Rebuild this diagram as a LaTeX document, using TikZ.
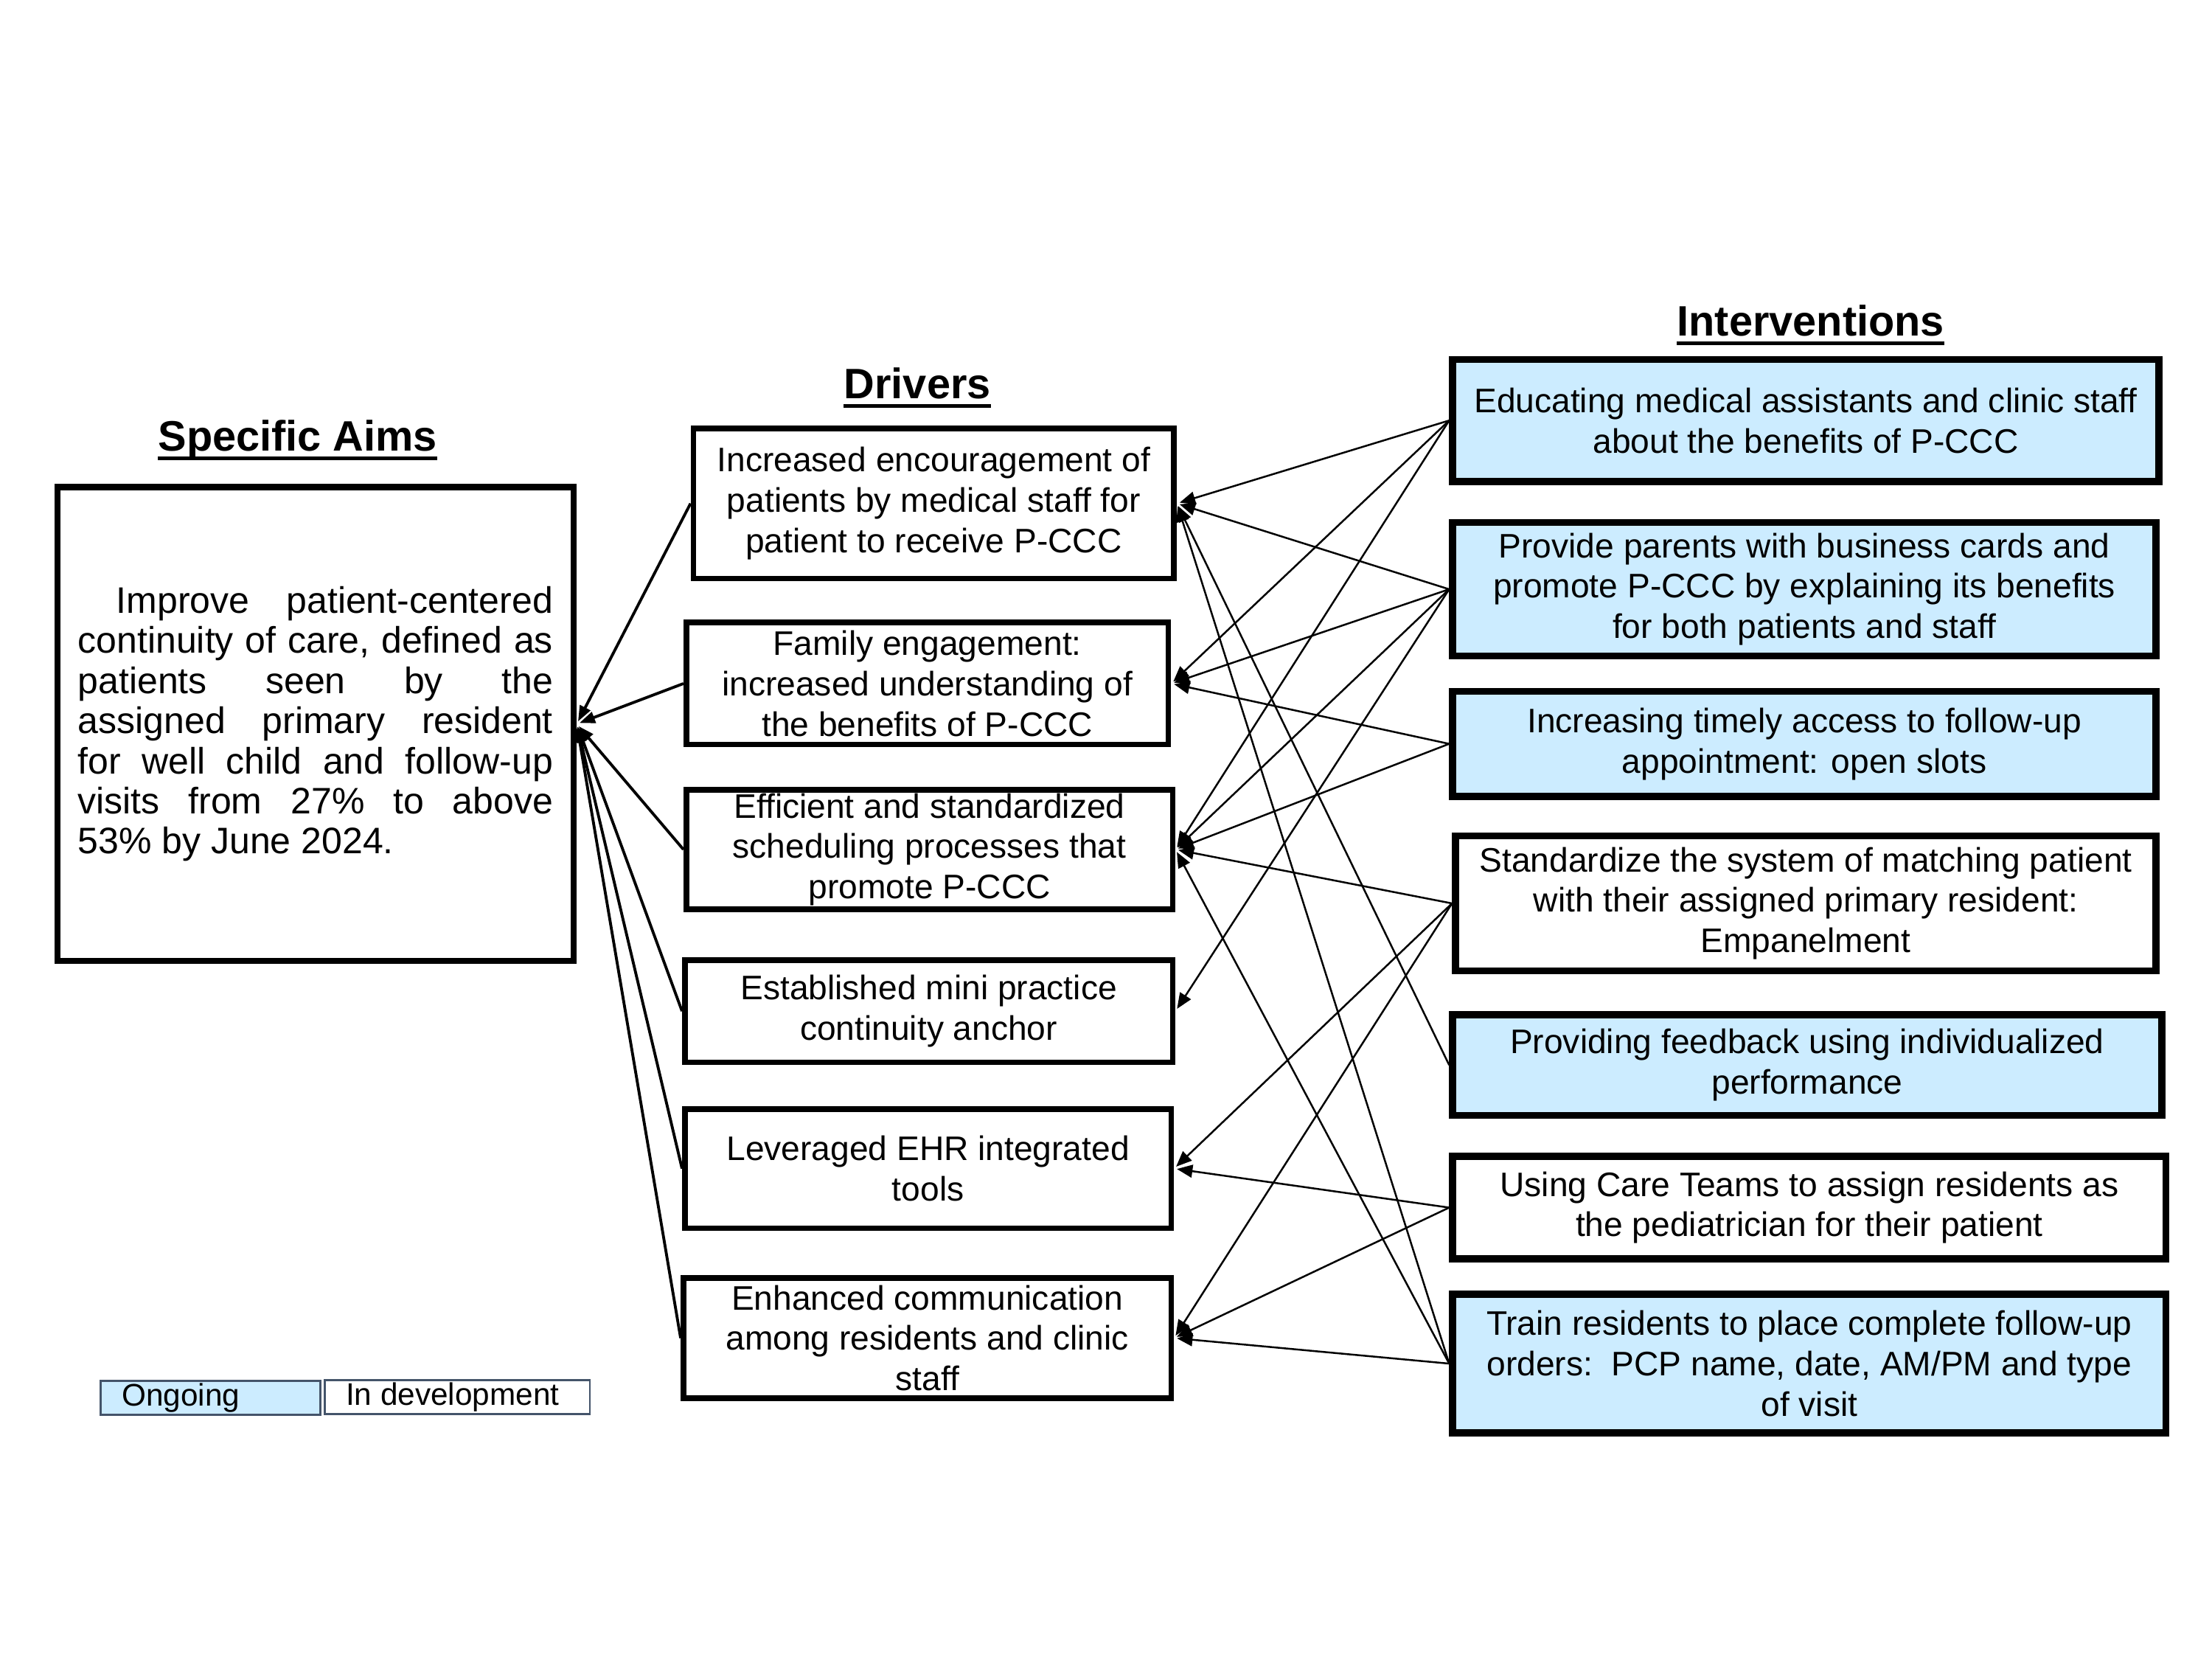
\documentclass[tikz,border=0pt]{standalone}
\usepackage{fontspec}
\setmainfont{Liberation Sans}
\usetikzlibrary{arrows.meta}
\definecolor{ltblue}{RGB}{204,236,255}
\definecolor{legendline}{RGB}{68,84,106}
\begin{document}
\begin{tikzpicture}[x=1pt,y=-1pt,
  box/.style={draw, rectangle, line width=4pt, inner sep=0pt, align=center,
    font=\fontsize{24}{28.5}\selectfont},
  intv/.style={box, line width=5pt},
  ongoing/.style={fill=ltblue},
  conn/.style={line width=1.3pt, shorten >=2pt, -{Triangle[length=11pt,width=9pt]}},
  aimconn/.style={line width=2pt, shorten >=2pt, -{Triangle[length=11pt,width=8pt]}},
  title/.style={font=\fontsize{30}{34}\selectfont\bfseries, inner sep=0pt, anchor=base},
  uline/.style={line width=2.6pt},
  lgbox/.style={draw=legendline, line width=1.5pt, inner sep=0pt, minimum height=24pt,
    font=\fontsize{22}{24}\selectfont}
]
\useasboundingbox (0,0) rectangle (1560,1170);

% titles
\node[title] (tAims) at (210,318) {Specific Aims};
\node[title] (tDrv) at (647,281) {Drivers};
\node[title] (tInt) at (1277,237) {Interventions};
\foreach \t in {tAims,tDrv,tInt}
  \draw[uline] ([yshift=-5pt]\t.base west) -- ([yshift=-5pt]\t.base east);

% aim
\node[draw, rectangle, line width=4.5pt, inner sep=0pt, minimum width=364pt, minimum height=334pt]
  (aim) at (222.5,510.5) {\parbox{335pt}{\fontsize{26}{28.3}\selectfont
  \hbox to 335pt{\kern27pt Improve\hfill patient-centered}
  \hbox to 335pt{continuity\hfill of\hfill care,\hfill defined\hfill as}
  \hbox to 335pt{patients\hfill seen\hfill by\hfill the}
  \hbox to 335pt{assigned\hfill primary\hfill resident}
  \hbox to 335pt{for\hfill well\hfill child\hfill and\hfill follow-up}
  \hbox to 335pt{visits\hfill from\hfill 27\%\hfill to\hfill above}
  \hbox to 335pt{53\% by June 2024.\hfill}}};

% drivers
\node[box, minimum width=339pt, minimum height=106pt] (d1) at (658.5,355)
  {Increased encouragement of\\patients by medical staff for\\patient to receive P-CCC};
\node[box, minimum width=340pt, minimum height=86pt] (d2) at (654,482)
  {Family engagement:\\increased understanding of\\the benefits of P-CCC};
\node[box, minimum width=343pt, minimum height=84pt] (d3) at (655.5,599)
  {Efficient and standardized\\scheduling processes that\\promote P-CCC};
\node[box, minimum width=344pt, minimum height=72pt] (d4) at (655,713)
  {Established mini practice\\continuity anchor};
\node[box, minimum width=343pt, minimum height=84pt] (d5) at (654.5,824)
  {Leveraged EHR integrated\\tools};
\node[box, minimum width=344pt, minimum height=85pt] (d6) at (654,943.5)
  {Enhanced communication\\among residents and clinic\\staff};

% interventions
\node[intv, ongoing, minimum width=498pt, minimum height=86pt] (i1) at (1273.5,296.5)
  {Educating medical assistants and clinic staff\\about the benefits of P-CCC};
\node[intv, ongoing, minimum width=496pt, minimum height=94pt] (i2) at (1272.5,415.5)
  {Provide parents with business cards and\\promote P-CCC by explaining its benefits\\for both patients and staff};
\node[intv, ongoing, minimum width=496pt, minimum height=74pt] (i3) at (1272.5,524.5)
  {Increasing timely access to follow-up\\appointment: open slots};
\node[intv, minimum width=494pt, minimum height=95pt] (i4) at (1273.5,637)
  {Standardize the system of matching patient\\with their assigned primary resident:\\Empanelment};
\node[intv, ongoing, minimum width=500pt, minimum height=71pt] (i5) at (1274.5,751)
  {Providing feedback using individualized\\performance};
\node[intv, minimum width=503pt, minimum height=72pt] (i6) at (1276,851.5)
  {Using Care Teams to assign residents as\\the pediatrician for their patient};
\node[intv, ongoing, minimum width=503pt, minimum height=98pt] (i7) at (1276,961.5)
  {Train residents to place complete follow-up\\orders:\ \ PCP name, date, AM/PM and type\\of visit};

% legend
\node[lgbox, ongoing, minimum width=155pt] (lg1) at (148.5,985.5)
  {\makebox[155pt][l]{\hspace{15pt}Ongoing}};
\node[lgbox, minimum width=187pt] (lg2) at (322.5,985)
  {\makebox[187pt][l]{\hspace{15pt}In development}};

% drivers -> aim
\foreach \d in {d1,d2,d3,d4,d5,d6}
  \draw[aimconn] (\d.west) -- (aim.east);

% interventions -> drivers
\foreach \a/\b in {i1/d1,i1/d2,i1/d3,i2/d1,i2/d2,i2/d3,i2/d4,i3/d2,i3/d3,
                   i4/d3,i4/d5,i4/d6,i5/d1,i6/d5,i6/d6,i7/d1,i7/d3,i7/d6}
  \draw[conn] (\a.west) -- (\b.east);
\end{tikzpicture}
\end{document}
